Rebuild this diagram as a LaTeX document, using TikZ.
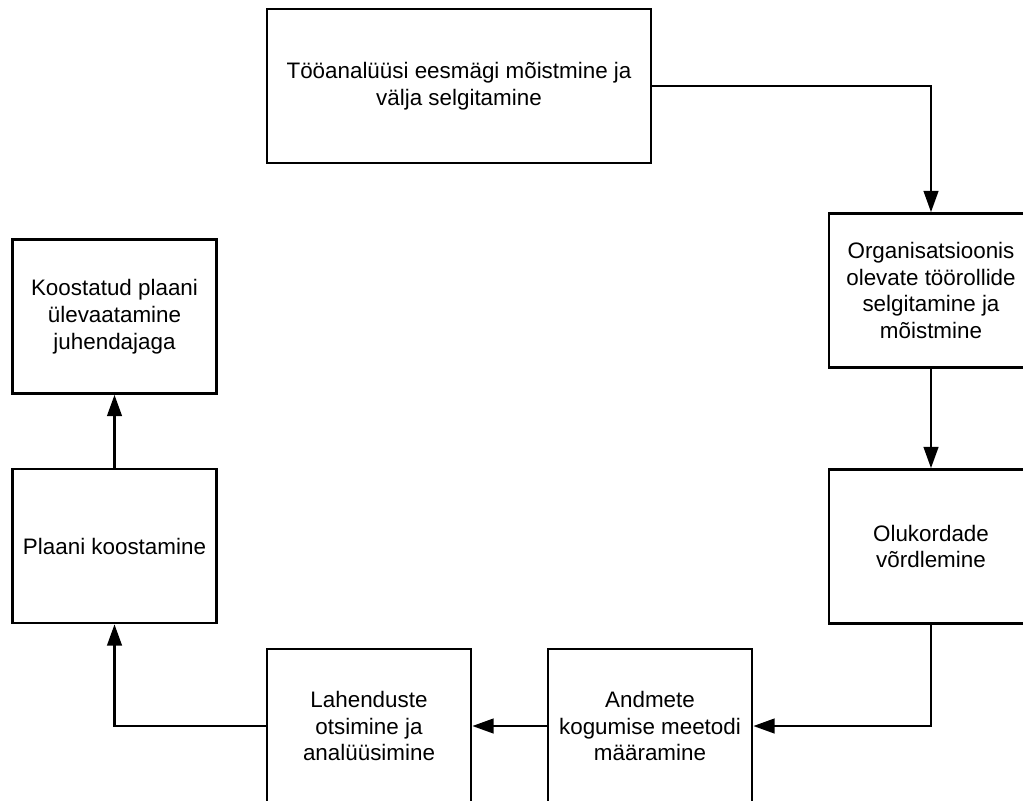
\documentclass[tikz,border=0pt]{standalone}
\usepackage{fontspec}
\setmainfont{Liberation Sans}
\usetikzlibrary{arrows.meta}
\begin{document}
\begin{tikzpicture}[x=0.75pt, y=-0.75pt, font=\fontsize{16.8}{20.2}\selectfont,
  stepbox/.style={draw, line width=2pt, inner sep=0pt, minimum width=153pt, minimum height=115.5pt, align=center},
  flow/.style={draw, line width=1.8pt, -{Triangle[length=16pt,width=11pt]}}]
\useasboundingbox (0,0) rectangle (1023,800);
\clip (0,0) rectangle (1023,800);
% steps of the job analysis, clockwise from the top
\node[stepbox, minimum width=288pt] (goal) at (459,86) {Tööanalüüsi eesmägi mõistmine ja\\välja selgitamine};
\node[stepbox] (roles) at (931,290.5) {Organisatsioonis\\olevate töörollide\\selgitamine ja\\mõistmine};
\node[stepbox] (compare) at (931,546.5) {Olukordade\\võrdlemine};
\node[stepbox] (method) at (650,726) {Andmete\\kogumise meetodi\\määramine};
\node[stepbox] (solutions) at (369,726) {Lahenduste\\otsimine ja\\analüüsimine};
\node[stepbox] (plan) at (114.5,546) {Plaani koostamine};
\node[stepbox] (review) at (114.5,316.5) {Koostatud plaani\\ülevaatamine\\juhendajaga};
\draw[flow] (goal.east) -| (roles.north);
\draw[flow] (roles.south) -- (compare.north);
\draw[flow] (compare.south) |- (method.east);
\draw[flow] (method.west) -- (solutions.east);
\draw[flow] (solutions.west) -| (plan.south);
\draw[flow] (plan.north) -- (review.south);
\end{tikzpicture}
\end{document}
